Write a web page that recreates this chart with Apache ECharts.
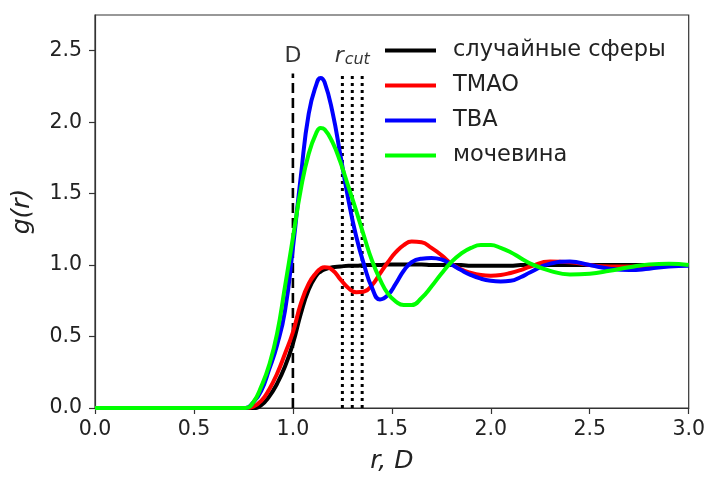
<!DOCTYPE html>
<html>
<head>
<meta charset="utf-8">
<script src="https://cdn.jsdelivr.net/npm/echarts@6/dist/echarts.min.js"></script>
<style>
  html, body { margin: 0; padding: 0; background: #fff; }
  #chart { width: 708px; height: 479px; }
</style>
</head>
<body>
<div id="chart"></div>
<script>
// Radial distribution functions g(r), r in units of D
const r = [0.00, 0.50, 0.70, 0.76, 0.80, 0.84, 0.88, 0.92, 0.96, 1.00, 1.04, 1.08, 1.12, 1.14, 1.16, 1.20, 1.24, 1.28, 1.32, 1.36, 1.40, 1.44, 1.48, 1.52, 1.56, 1.60, 1.65, 1.70, 1.75, 1.80, 1.85, 1.90, 1.95, 2.00, 2.05, 2.10, 2.15, 2.20, 2.30, 2.40, 2.50, 2.60, 2.70, 2.80, 2.90, 3.00];

const randomSpheres = [0, 0, 0, 0, 0, 0.02, 0.08, 0.17, 0.29, 0.45, 0.66, 0.83, 0.93, 0.955, 0.97, 0.985, 0.99, 0.995, 0.995, 1.0, 1.0, 1.0, 1.005, 1.005, 1.005, 1.005, 1.005, 1.0, 1.0, 1.0, 1.0, 0.995, 0.995, 0.995, 0.995, 0.995, 1.0, 1.0, 1.0, 1.0, 1.0, 1.0, 1.0, 1.0, 1.0, 1.0];

const tmao = [0, 0, 0, 0, 0.01, 0.05, 0.13, 0.24, 0.38, 0.53, 0.73, 0.87, 0.95, 0.975, 0.985, 0.965, 0.90, 0.84, 0.81, 0.815, 0.86, 0.94, 1.02, 1.09, 1.14, 1.165, 1.16, 1.12, 1.07, 1.01, 0.97, 0.945, 0.93, 0.925, 0.93, 0.945, 0.965, 0.99, 1.025, 1.02, 1.0, 0.99, 0.99, 0.995, 1.0, 1.0];

const tba = [0, 0, 0, 0, 0.04, 0.12, 0.27, 0.44, 0.68, 1.12, 1.62, 2.06, 2.27, 2.31, 2.28, 2.07, 1.77, 1.46, 1.20, 1.00, 0.84, 0.76, 0.79, 0.87, 0.96, 1.02, 1.045, 1.05, 1.04, 1.005, 0.965, 0.93, 0.905, 0.89, 0.885, 0.89, 0.915, 0.95, 1.01, 1.025, 1.0, 0.975, 0.965, 0.975, 0.99, 0.995];

const urea = [0, 0, 0, 0, 0.04, 0.15, 0.30, 0.52, 0.85, 1.19, 1.53, 1.78, 1.93, 1.96, 1.95, 1.86, 1.72, 1.55, 1.38, 1.20, 1.03, 0.90, 0.80, 0.745, 0.72, 0.72, 0.77, 0.85, 0.94, 1.02, 1.08, 1.12, 1.14, 1.14, 1.12, 1.09, 1.05, 1.01, 0.96, 0.935, 0.94, 0.96, 0.985, 1.005, 1.01, 1.0];

const seriesNames = ['случайные сферы', 'TMAO', 'TBA', 'мочевина'];
const seriesColors = ['#000000', '#ff0000', '#0000ff', '#00ff00'];
const seriesValues = [randomSpheres, tmao, tba, urea];

// reference lines: contact distance D and the cutoff radii
const contactD = 1.0;
const cutoffs = [1.25, 1.30, 1.35];
const guideTop = 2.34;
const guideLabelY = 2.46;

const xTicks = [0, 0.5, 1.0, 1.5, 2.0, 2.5, 3.0];
const yTicks = [0, 0.5, 1.0, 1.5, 2.0, 2.5];

const FONT = 'DejaVu Sans';
const INK = '#222';

const chart = echarts.init(document.getElementById('chart'), null, { renderer: 'canvas' });

const guideSeries = [
  {
    type: 'line', name: 'D-line', silent: true, z: 1, symbol: 'none',
    data: [[contactD, 0], [contactD, guideTop]],
    lineStyle: { color: '#000', width: 2.6, type: [10, 5] }
  }
].concat(cutoffs.map(c => ({
  type: 'line', name: 'cut-' + c, silent: true, z: 1, symbol: 'none',
  data: [[c, 0], [c, guideTop]],
  lineStyle: { color: '#000', width: 3, type: [3, 4] }
})));

const curveSeries = seriesNames.map((name, k) => ({
  type: 'line',
  name: name,
  z: 3,
  symbol: 'none',
  smooth: 0.5,
  data: r.map((x, i) => [x, seriesValues[k][i]]),
  lineStyle: { color: seriesColors[k], width: 4 },
  itemStyle: { color: seriesColors[k] }
}));

const labelSeries = {
  type: 'scatter', silent: true, z: 4,
  symbolSize: 1,
  itemStyle: { color: 'rgba(0,0,0,0)' },
  data: [
    {
      value: [contactD, guideLabelY],
      label: { show: true, position: 'inside', formatter: 'D', fontFamily: FONT, fontSize: 22, color: '#000' }
    },
    {
      value: [cutoffs[1], guideLabelY],
      label: {
        show: true, position: 'inside', formatter: '{r|r}{s|cut}',
        rich: {
          r: { fontFamily: FONT, fontStyle: 'italic', fontSize: 22, lineHeight: 22, verticalAlign: 'top', color: '#000' },
          s: { fontFamily: FONT, fontStyle: 'italic', fontSize: 16, lineHeight: 16, padding: [12, 0, 0, 1], verticalAlign: 'bottom', color: '#000' }
        }
      }
    }
  ]
};

chart.setOption({
  animation: false,
  backgroundColor: '#ffffff',
  grid: { left: 95, top: 15, width: 594, height: 400, show: true, borderColor: '#333', borderWidth: 1.2, backgroundColor: 'transparent' },
  legend: {
    data: seriesNames,
    orient: 'vertical',
    left: 380, top: 34,
    icon: 'rect',
    itemWidth: 51, itemHeight: 4,
    itemGap: 12,
    selectedMode: false,
    textStyle: { fontFamily: FONT, fontSize: 22.5, color: INK, lineHeight: 22, padding: [0, 0, 0, 12] }
  },
  xAxis: {
    type: 'value', min: 0, max: 3, interval: 0.5,
    name: 'r, D', nameLocation: 'middle', nameGap: 41,
    nameTextStyle: { fontFamily: FONT, fontStyle: 'italic', fontSize: 25, color: INK },
    axisLine: { show: true, lineStyle: { color: '#333', width: 1.2 } },
    axisTick: { show: true, length: 6, lineStyle: { color: '#333', width: 1.2 }, customValues: xTicks },
    axisLabel: { fontFamily: FONT, fontSize: 20.5, color: INK, margin: 11, customValues: xTicks, formatter: v => v.toFixed(1) },
    splitLine: { show: false }
  },
  yAxis: {
    type: 'value', min: 0, max: 2.75, interval: 0.5,
    name: 'g(r)', nameLocation: 'middle', nameGap: 60,
    nameTextStyle: { fontFamily: FONT, fontStyle: 'italic', fontSize: 25, color: INK },
    axisLine: { show: true, lineStyle: { color: '#333', width: 1.2 } },
    axisTick: { show: true, length: 6, lineStyle: { color: '#333', width: 1.2 }, customValues: yTicks },
    axisLabel: { fontFamily: FONT, fontSize: 20.5, color: INK, margin: 13, customValues: yTicks, formatter: v => v.toFixed(1) },
    splitLine: { show: false }
  },
  series: guideSeries.concat(curveSeries, [labelSeries])
});
</script>
</body>
</html>
